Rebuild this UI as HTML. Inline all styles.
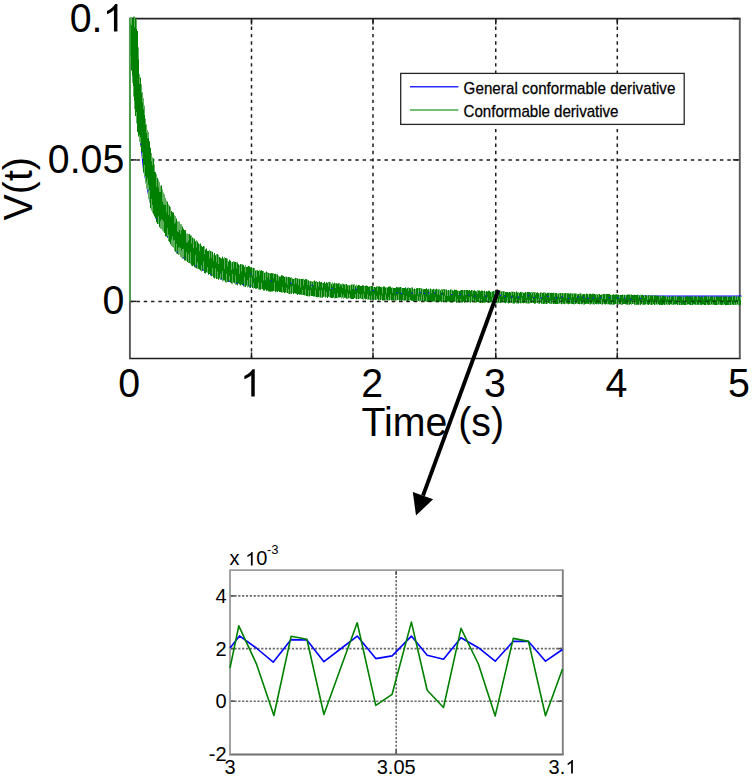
<!DOCTYPE html>
<html><head><meta charset="utf-8"><style>
html,body{margin:0;padding:0;background:#fff;width:752px;height:778px;overflow:hidden}
svg{display:block}
</style></head><body>
<svg width="752" height="778" viewBox="0 0 752 778" font-family="&quot;Liberation Sans&quot;, sans-serif" fill="#000">
<line x1="251.5" y1="358.87" x2="251.5" y2="18.6" stroke="#1e1e1e" stroke-width="1.5" stroke-dasharray="3.4 3.908"/>
<line x1="373.0" y1="358.87" x2="373.0" y2="18.6" stroke="#1e1e1e" stroke-width="1.5" stroke-dasharray="3.4 3.908"/>
<line x1="495.75" y1="358.87" x2="495.75" y2="18.6" stroke="#1e1e1e" stroke-width="1.5" stroke-dasharray="3.4 3.908"/>
<line x1="617.3" y1="358.87" x2="617.3" y2="18.6" stroke="#1e1e1e" stroke-width="1.5" stroke-dasharray="3.4 3.908"/>
<line x1="129.2" y1="159.9" x2="739.8" y2="159.9" stroke="#1e1e1e" stroke-width="1.5" stroke-dasharray="3.4 3.894"/>
<line x1="129.2" y1="301.4" x2="739.8" y2="301.4" stroke="#1e1e1e" stroke-width="1.5" stroke-dasharray="3.4 3.894"/>
<line x1="251.5" y1="358.45" x2="251.5" y2="352.45" stroke="#1e1e1e" stroke-width="1.5"/>
<line x1="251.5" y1="18.6" x2="251.5" y2="24.6" stroke="#1e1e1e" stroke-width="1.5"/>
<line x1="373.0" y1="358.45" x2="373.0" y2="352.45" stroke="#1e1e1e" stroke-width="1.5"/>
<line x1="373.0" y1="18.6" x2="373.0" y2="24.6" stroke="#1e1e1e" stroke-width="1.5"/>
<line x1="495.75" y1="358.45" x2="495.75" y2="352.45" stroke="#1e1e1e" stroke-width="1.5"/>
<line x1="495.75" y1="18.6" x2="495.75" y2="24.6" stroke="#1e1e1e" stroke-width="1.5"/>
<line x1="617.3" y1="358.45" x2="617.3" y2="352.45" stroke="#1e1e1e" stroke-width="1.5"/>
<line x1="617.3" y1="18.6" x2="617.3" y2="24.6" stroke="#1e1e1e" stroke-width="1.5"/>
<line x1="129.9" y1="18.6" x2="136.4" y2="18.6" stroke="#1e1e1e" stroke-width="1.5"/>
<line x1="732.8" y1="18.6" x2="739.8" y2="18.6" stroke="#1e1e1e" stroke-width="1.5"/>
<line x1="129.9" y1="159.9" x2="136.4" y2="159.9" stroke="#1e1e1e" stroke-width="1.5"/>
<line x1="732.8" y1="159.9" x2="739.8" y2="159.9" stroke="#1e1e1e" stroke-width="1.5"/>
<line x1="129.9" y1="301.4" x2="136.4" y2="301.4" stroke="#1e1e1e" stroke-width="1.5"/>
<line x1="732.8" y1="301.4" x2="739.8" y2="301.4" stroke="#1e1e1e" stroke-width="1.5"/>
<line x1="129.1" y1="18.6" x2="740.6999999999999" y2="18.6" stroke="#222" stroke-width="1.6"/>
<line x1="129.1" y1="358.45" x2="740.6999999999999" y2="358.45" stroke="#1c1c1c" stroke-width="1.6"/>
<line x1="129.9" y1="18.6" x2="129.9" y2="358.45" stroke="#555" stroke-width="1.9"/>
<line x1="739.8" y1="18.6" x2="739.8" y2="358.45" stroke="#585858" stroke-width="1.9"/>
<path d="M141.5,149.3 L143.5,168.4 L145.5,178.7 L147.5,189.0 L149.5,199.3 L151.5,206.4 L153.5,211.0 L155.5,215.6 L157.5,220.2 L159.5,223.2 L161.5,226.2 L163.5,229.2 L165.5,232.2 L167.5,235.4 L169.5,238.6 L171.5,241.8 L173.5,245.0 L175.5,248.1 L177.5,250.3 L179.5,251.9 L181.5,253.6 L183.5,255.3 L185.5,257.0 L187.5,258.6 L189.5,260.0 L191.5,261.2 L193.5,262.4 L195.5,263.5 L197.5,264.8 L199.5,266.0 L201.5,267.2 L203.5,268.4 L205.5,269.7 L207.5,270.9 L209.5,272.1 L211.5,273.3 L213.5,274.3 L215.5,275.0 L217.5,275.8 L219.5,276.5 L221.5,277.2 L223.5,277.9 L225.5,278.5 L227.5,279.1 L229.5,279.6 L231.5,280.2 L233.5,280.7 L235.5,281.3 L237.5,281.8 L239.5,282.2 L241.5,282.7 L243.5,283.2 L245.5,283.6 L247.5,284.1 L249.5,284.5 L251.5,285.0 L253.5,285.4 L255.5,285.8 L257.5,286.2 L259.5,286.6 L261.5,287.1 L263.5,287.5 L265.5,287.9 L267.5,288.3 L269.5,288.5 L271.5,288.8 L273.5,289.0 L275.5,289.3 L277.5,289.5 L279.5,289.7 L281.5,290.0 L283.5,290.2 L285.5,290.5 L287.5,290.8 L289.5,291.1 L291.5,291.4 L293.5,291.7 L295.5,292.0 L297.5,292.3 L299.5,292.6 L301.5,292.9 L303.5,293.1 L305.5,293.4 L307.5,293.6 L309.5,293.8 L311.5,294.0 L313.5,294.2 L315.5,294.4 L317.5,294.6 L319.5,294.8 L321.5,294.9 L323.5,295.0 L325.5,295.1 L327.5,295.2 L329.5,295.3 L331.5,295.4 L333.5,295.6 L335.5,295.7 L337.5,295.8 L339.5,295.9 L341.5,296.0 L343.5,296.1 L345.5,296.2 L347.5,296.4 L349.5,296.5 L351.5,296.6 L353.5,296.7 L355.5,296.8 L357.5,296.9 L359.5,297.0 L361.5,297.1 L363.5,297.2 L365.5,297.4 L367.5,297.5 L369.5,297.6 L371.5,297.7 L373.5,297.7 L375.5,297.8 L377.5,297.9 L379.5,297.9 L381.5,298.0 L383.5,298.1 L385.5,298.1 L387.5,298.2 L389.5,298.3 L391.5,298.3 L393.5,298.4 L395.5,298.5 L397.5,298.5 L399.5,298.6 L401.5,298.7 L403.5,298.7 L405.5,298.8 L407.5,298.9 L409.5,298.9 L411.5,299.0 L413.5,299.1 L415.5,299.1 L417.5,299.2 L419.5,299.3 L421.5,299.3 L423.5,299.4 L425.5,299.5 L427.5,299.5 L429.5,299.6 L431.5,299.7 L433.5,299.8 L435.5,299.8 L437.5,299.9 L439.5,300.0 L441.5,300.0 L443.5,300.1 L445.5,300.2 L447.5,300.2 L449.5,300.3 L451.5,300.3 L453.5,300.3 L455.5,300.2 L457.5,300.2 L459.5,300.2 L461.5,300.2 L463.5,300.1 L465.5,300.1 L467.5,300.1 L469.5,300.1 L471.5,300.0 L473.5,300.0 L475.5,300.0 L477.5,299.9 L479.5,299.9 L481.5,299.9 L483.5,299.8 L485.5,299.8 L487.5,299.8 L489.5,299.7 L491.5,299.7 L493.5,299.6 L495.5,299.6 L497.5,299.6 L499.5,299.5 L501.5,299.5 L503.5,299.4 L505.5,299.4 L507.5,299.3 L509.5,299.3 L511.5,299.2 L513.5,299.2 L515.5,299.1 L517.5,299.1 L519.5,299.0 L521.5,299.0 L523.5,298.9 L525.5,298.9 L527.5,298.8 L529.5,298.8 L531.5,298.7 L533.5,298.6 L535.5,298.6 L537.5,298.5 L539.5,298.5 L541.5,298.4 L543.5,298.3 L545.5,298.3 L547.5,298.2 L549.5,298.1 L551.5,298.1 L553.5,298.0 L555.5,297.9 L557.5,297.9 L559.5,297.8 L561.5,297.7 L563.5,297.7 L565.5,297.6 L567.5,297.5 L569.5,297.4 L571.5,297.4 L573.5,297.3 L575.5,297.2 L577.5,297.1 L579.5,297.0 L581.5,297.0 L583.5,296.9 L585.5,296.8 L587.5,296.7 L589.5,296.6 L591.5,296.6 L593.5,296.5 L595.5,296.4 L597.5,296.3 L599.5,296.2 L601.5,296.2 L603.5,296.2 L605.5,296.2 L607.5,296.2 L609.5,296.2 L611.5,296.2 L613.5,296.2 L615.5,296.2 L617.5,296.2 L619.5,296.2 L621.5,296.2 L623.5,296.2 L625.5,296.2 L627.5,296.2 L629.5,296.2 L631.5,296.2 L633.5,296.2 L635.5,296.2 L637.5,296.2 L639.5,296.2 L641.5,296.2 L643.5,296.2 L645.5,296.2 L647.5,296.2 L649.5,296.2 L651.5,296.2 L653.5,296.2 L655.5,296.2 L657.5,296.2 L659.5,296.2 L661.5,296.2 L663.5,296.2 L665.5,296.2 L667.5,296.2 L669.5,296.2 L671.5,296.2 L673.5,296.2 L675.5,296.2 L677.5,296.2 L679.5,296.2 L681.5,296.2 L683.5,296.2 L685.5,296.2 L687.5,296.2 L689.5,296.2 L691.5,296.2 L693.5,296.2 L695.5,296.2 L697.5,296.2 L699.5,296.2 L701.5,296.2 L703.5,296.2 L705.5,296.2 L707.5,296.2 L709.5,296.2 L711.5,296.2 L713.5,296.2 L715.5,296.2 L717.5,296.2 L719.5,296.2 L721.5,296.2 L723.5,296.2 L725.5,296.2 L727.5,296.2 L729.5,296.2 L731.5,296.2 L733.5,296.2 L735.5,296.2 L737.5,296.2 L739.5,296.2 L741.5,296.2" fill="none" stroke="#0000ff" stroke-width="1.3"/>
<path d="M130.0,17.1h1.0V62.7h-1.0ZM131.0,17.4h1.0V70.4h-1.0ZM132.0,19.2h1.0V82.7h-1.0ZM133.0,16.7h1.0V96.5h-1.0ZM134.0,16.6h1.0V109.1h-1.0ZM135.0,18.6h1.0V116.0h-1.0ZM136.0,19.1h1.0V123.3h-1.0ZM137.0,31.0h1.0V132.1h-1.0ZM138.0,47.6h1.0V136.5h-1.0ZM139.0,74.2h1.0V141.7h-1.0ZM140.0,77.4h1.0V147.0h-1.0ZM141.0,84.5h1.0V151.8h-1.0ZM142.0,91.9h1.0V158.7h-1.0ZM143.0,98.3h1.0V172.3h-1.0ZM144.0,105.8h1.0V176.0h-1.0ZM145.0,118.8h1.0V183.1h-1.0ZM146.0,124.3h1.0V188.2h-1.0ZM147.0,129.9h1.0V191.1h-1.0ZM148.0,131.9h1.0V198.5h-1.0ZM149.0,141.3h1.0V202.3h-1.0ZM150.0,147.8h1.0V208.3h-1.0ZM151.0,153.3h1.0V210.6h-1.0ZM152.0,157.4h1.0V212.4h-1.0ZM153.0,158.4h1.0V214.3h-1.0ZM154.0,164.4h1.0V216.5h-1.0ZM155.0,172.2h1.0V218.3h-1.0ZM156.0,174.2h1.0V222.2h-1.0ZM157.0,177.8h1.0V224.1h-1.0ZM158.0,179.7h1.0V224.1h-1.0ZM159.0,182.2h1.0V227.3h-1.0ZM160.0,185.7h1.0V228.5h-1.0ZM161.0,185.6h1.0V229.0h-1.0ZM162.0,189.4h1.0V230.6h-1.0ZM163.0,192.7h1.0V231.6h-1.0ZM164.0,194.4h1.0V233.0h-1.0ZM165.0,198.3h1.0V236.5h-1.0ZM166.0,200.7h1.0V236.3h-1.0ZM167.0,201.7h1.0V237.7h-1.0ZM168.0,204.6h1.0V240.9h-1.0ZM169.0,205.8h1.0V241.9h-1.0ZM170.0,207.2h1.0V244.3h-1.0ZM171.0,210.9h1.0V245.9h-1.0ZM172.0,212.2h1.0V247.1h-1.0ZM173.0,212.4h1.0V247.5h-1.0ZM174.0,215.2h1.0V250.7h-1.0ZM175.0,216.3h1.0V251.7h-1.0ZM176.0,218.6h1.0V253.6h-1.0ZM177.0,221.0h1.0V254.1h-1.0ZM178.0,221.7h1.0V254.9h-1.0ZM179.0,221.7h1.0V254.6h-1.0ZM180.0,223.9h1.0V256.9h-1.0ZM181.0,224.4h1.0V257.5h-1.0ZM182.0,226.6h1.0V258.8h-1.0ZM183.0,228.7h1.0V258.3h-1.0ZM184.0,230.1h1.0V260.5h-1.0ZM185.0,230.2h1.0V260.5h-1.0ZM186.0,233.7h1.0V260.9h-1.0ZM187.0,233.4h1.0V261.9h-1.0ZM188.0,234.0h1.0V263.0h-1.0ZM189.0,234.1h1.0V263.0h-1.0ZM190.0,235.5h1.0V263.7h-1.0ZM191.0,235.5h1.0V265.5h-1.0ZM192.0,237.4h1.0V266.2h-1.0ZM193.0,238.6h1.0V265.5h-1.0ZM194.0,238.7h1.0V267.2h-1.0ZM195.0,241.2h1.0V267.9h-1.0ZM196.0,240.3h1.0V268.2h-1.0ZM197.0,241.5h1.0V269.0h-1.0ZM198.0,243.2h1.0V268.8h-1.0ZM199.0,244.3h1.0V269.5h-1.0ZM200.0,243.6h1.0V270.4h-1.0ZM201.0,245.7h1.0V271.4h-1.0ZM202.0,246.9h1.0V270.6h-1.0ZM203.0,245.9h1.0V270.3h-1.0ZM204.0,246.5h1.0V273.1h-1.0ZM205.0,249.4h1.0V273.5h-1.0ZM206.0,248.4h1.0V272.2h-1.0ZM207.0,251.0h1.0V272.8h-1.0ZM208.0,251.1h1.0V274.8h-1.0ZM209.0,250.1h1.0V274.1h-1.0ZM210.0,251.0h1.0V275.2h-1.0ZM211.0,251.5h1.0V276.3h-1.0ZM212.0,251.8h1.0V275.9h-1.0ZM213.0,254.8h1.0V277.6h-1.0ZM214.0,253.1h1.0V278.6h-1.0ZM215.0,255.3h1.0V277.5h-1.0ZM216.0,254.2h1.0V278.9h-1.0ZM217.0,254.1h1.0V278.9h-1.0ZM218.0,254.9h1.0V279.7h-1.0ZM219.0,257.1h1.0V278.5h-1.0ZM220.0,257.8h1.0V279.9h-1.0ZM221.0,258.4h1.0V279.4h-1.0ZM222.0,256.5h1.0V281.2h-1.0ZM223.0,258.5h1.0V280.5h-1.0ZM224.0,257.3h1.0V280.5h-1.0ZM225.0,258.1h1.0V282.2h-1.0ZM226.0,258.2h1.0V282.5h-1.0ZM227.0,258.8h1.0V281.8h-1.0ZM228.0,261.4h1.0V282.0h-1.0ZM229.0,259.7h1.0V281.4h-1.0ZM230.0,260.7h1.0V282.4h-1.0ZM231.0,262.5h1.0V283.6h-1.0ZM232.0,262.0h1.0V283.9h-1.0ZM233.0,261.3h1.0V282.4h-1.0ZM234.0,261.7h1.0V283.3h-1.0ZM235.0,261.9h1.0V284.6h-1.0ZM236.0,262.2h1.0V284.6h-1.0ZM237.0,262.4h1.0V285.3h-1.0ZM238.0,264.2h1.0V283.6h-1.0ZM239.0,265.2h1.0V284.5h-1.0ZM240.0,263.9h1.0V285.6h-1.0ZM241.0,264.2h1.0V284.4h-1.0ZM242.0,264.6h1.0V285.0h-1.0ZM243.0,265.1h1.0V286.2h-1.0ZM244.0,266.7h1.0V286.8h-1.0ZM245.0,265.1h1.0V287.0h-1.0ZM246.0,266.9h1.0V285.6h-1.0ZM247.0,266.8h1.0V287.2h-1.0ZM248.0,266.1h1.0V286.4h-1.0ZM249.0,266.4h1.0V287.7h-1.0ZM250.0,267.3h1.0V287.9h-1.0ZM251.0,267.3h1.0V287.0h-1.0ZM252.0,268.5h1.0V288.1h-1.0ZM253.0,267.8h1.0V288.5h-1.0ZM254.0,268.1h1.0V288.1h-1.0ZM255.0,270.6h1.0V288.8h-1.0ZM256.0,270.0h1.0V288.7h-1.0ZM257.0,270.2h1.0V288.3h-1.0ZM258.0,270.9h1.0V289.4h-1.0ZM259.0,269.7h1.0V289.6h-1.0ZM260.0,270.7h1.0V289.7h-1.0ZM261.0,270.3h1.0V289.0h-1.0ZM262.0,271.0h1.0V289.2h-1.0ZM263.0,270.9h1.0V290.6h-1.0ZM264.0,272.8h1.0V290.5h-1.0ZM265.0,272.6h1.0V289.5h-1.0ZM266.0,271.6h1.0V290.9h-1.0ZM267.0,272.6h1.0V290.5h-1.0ZM268.0,273.1h1.0V291.4h-1.0ZM269.0,273.0h1.0V291.6h-1.0ZM270.0,273.4h1.0V291.7h-1.0ZM271.0,273.0h1.0V291.6h-1.0ZM272.0,273.3h1.0V291.5h-1.0ZM273.0,273.3h1.0V291.0h-1.0ZM274.0,273.9h1.0V290.9h-1.0ZM275.0,273.8h1.0V292.3h-1.0ZM276.0,273.9h1.0V291.6h-1.0ZM277.0,274.4h1.0V291.9h-1.0ZM278.0,275.8h1.0V291.1h-1.0ZM279.0,276.5h1.0V292.1h-1.0ZM280.0,276.5h1.0V292.0h-1.0ZM281.0,275.3h1.0V292.5h-1.0ZM282.0,275.6h1.0V292.6h-1.0ZM283.0,275.9h1.0V292.2h-1.0ZM284.0,277.1h1.0V293.2h-1.0ZM285.0,276.8h1.0V292.6h-1.0ZM286.0,276.7h1.0V292.7h-1.0ZM287.0,277.2h1.0V293.1h-1.0ZM288.0,277.1h1.0V293.7h-1.0ZM289.0,277.2h1.0V293.9h-1.0ZM290.0,277.7h1.0V294.1h-1.0ZM291.0,277.0h1.0V293.7h-1.0ZM292.0,278.5h1.0V292.9h-1.0ZM293.0,279.0h1.0V294.0h-1.0ZM294.0,278.7h1.0V293.3h-1.0ZM295.0,277.7h1.0V293.6h-1.0ZM296.0,278.3h1.0V293.7h-1.0ZM297.0,278.2h1.0V295.1h-1.0ZM298.0,279.0h1.0V294.0h-1.0ZM299.0,278.8h1.0V294.7h-1.0ZM300.0,279.1h1.0V294.4h-1.0ZM301.0,278.9h1.0V294.7h-1.0ZM302.0,279.0h1.0V294.9h-1.0ZM303.0,278.8h1.0V294.9h-1.0ZM304.0,279.7h1.0V295.3h-1.0ZM305.0,279.1h1.0V295.4h-1.0ZM306.0,279.3h1.0V296.1h-1.0ZM307.0,279.7h1.0V296.3h-1.0ZM308.0,280.3h1.0V296.3h-1.0ZM309.0,281.3h1.0V296.4h-1.0ZM310.0,281.2h1.0V295.6h-1.0ZM311.0,280.9h1.0V296.1h-1.0ZM312.0,281.7h1.0V295.9h-1.0ZM313.0,280.9h1.0V296.6h-1.0ZM314.0,280.4h1.0V296.5h-1.0ZM315.0,281.4h1.0V296.6h-1.0ZM316.0,281.0h1.0V297.0h-1.0ZM317.0,281.9h1.0V297.3h-1.0ZM318.0,282.1h1.0V297.0h-1.0ZM319.0,281.2h1.0V297.2h-1.0ZM320.0,282.3h1.0V297.4h-1.0ZM321.0,282.0h1.0V297.4h-1.0ZM322.0,282.8h1.0V297.7h-1.0ZM323.0,283.1h1.0V296.8h-1.0ZM324.0,281.8h1.0V296.5h-1.0ZM325.0,283.4h1.0V297.4h-1.0ZM326.0,282.3h1.0V297.0h-1.0ZM327.0,282.8h1.0V297.9h-1.0ZM328.0,282.1h1.0V296.7h-1.0ZM329.0,282.1h1.0V297.2h-1.0ZM330.0,282.2h1.0V297.4h-1.0ZM331.0,283.7h1.0V298.1h-1.0ZM332.0,282.5h1.0V298.0h-1.0ZM333.0,283.7h1.0V297.5h-1.0ZM334.0,282.7h1.0V298.2h-1.0ZM335.0,283.2h1.0V298.3h-1.0ZM336.0,283.2h1.0V298.1h-1.0ZM337.0,283.7h1.0V298.3h-1.0ZM338.0,283.3h1.0V297.6h-1.0ZM339.0,283.1h1.0V297.5h-1.0ZM340.0,284.3h1.0V297.2h-1.0ZM341.0,284.4h1.0V298.5h-1.0ZM342.0,283.6h1.0V297.4h-1.0ZM343.0,284.1h1.0V298.6h-1.0ZM344.0,284.5h1.0V297.8h-1.0ZM345.0,284.1h1.0V297.7h-1.0ZM346.0,283.9h1.0V298.7h-1.0ZM347.0,285.2h1.0V298.7h-1.0ZM348.0,285.0h1.0V298.3h-1.0ZM349.0,285.3h1.0V298.3h-1.0ZM350.0,285.2h1.0V298.5h-1.0ZM351.0,284.5h1.0V299.0h-1.0ZM352.0,284.5h1.0V299.1h-1.0ZM353.0,284.6h1.0V299.0h-1.0ZM354.0,284.6h1.0V298.1h-1.0ZM355.0,285.7h1.0V298.5h-1.0ZM356.0,284.7h1.0V299.2h-1.0ZM357.0,285.8h1.0V298.7h-1.0ZM358.0,284.9h1.0V298.9h-1.0ZM359.0,285.3h1.0V299.0h-1.0ZM360.0,285.9h1.0V298.5h-1.0ZM361.0,285.9h1.0V299.0h-1.0ZM362.0,285.2h1.0V299.3h-1.0ZM363.0,285.4h1.0V299.4h-1.0ZM364.0,286.1h1.0V298.6h-1.0ZM365.0,285.7h1.0V299.4h-1.0ZM366.0,285.5h1.0V299.0h-1.0ZM367.0,286.1h1.0V299.4h-1.0ZM368.0,286.7h1.0V299.5h-1.0ZM369.0,286.5h1.0V299.7h-1.0ZM370.0,286.0h1.0V300.1h-1.0ZM371.0,286.1h1.0V299.8h-1.0ZM372.0,285.9h1.0V299.4h-1.0ZM373.0,286.9h1.0V299.9h-1.0ZM374.0,287.0h1.0V299.6h-1.0ZM375.0,287.3h1.0V300.0h-1.0ZM376.0,286.4h1.0V300.1h-1.0ZM377.0,286.3h1.0V299.3h-1.0ZM378.0,286.5h1.0V300.2h-1.0ZM379.0,286.3h1.0V300.2h-1.0ZM380.0,286.9h1.0V300.1h-1.0ZM381.0,287.3h1.0V299.4h-1.0ZM382.0,287.0h1.0V300.5h-1.0ZM383.0,286.5h1.0V300.5h-1.0ZM384.0,286.6h1.0V300.5h-1.0ZM385.0,287.6h1.0V300.0h-1.0ZM386.0,287.5h1.0V299.7h-1.0ZM387.0,287.4h1.0V300.3h-1.0ZM388.0,286.7h1.0V300.6h-1.0ZM389.0,286.6h1.0V300.3h-1.0ZM390.0,286.6h1.0V299.8h-1.0ZM391.0,287.8h1.0V300.5h-1.0ZM392.0,287.5h1.0V300.2h-1.0ZM393.0,288.1h1.0V300.6h-1.0ZM394.0,288.0h1.0V300.8h-1.0ZM395.0,288.0h1.0V300.6h-1.0ZM396.0,287.0h1.0V300.6h-1.0ZM397.0,287.2h1.0V300.0h-1.0ZM398.0,287.5h1.0V299.8h-1.0ZM399.0,287.3h1.0V300.8h-1.0ZM400.0,287.1h1.0V300.3h-1.0ZM401.0,287.4h1.0V301.1h-1.0ZM402.0,288.0h1.0V300.3h-1.0ZM403.0,287.9h1.0V300.4h-1.0ZM404.0,288.1h1.0V300.8h-1.0ZM405.0,287.3h1.0V300.4h-1.0ZM406.0,288.4h1.0V300.4h-1.0ZM407.0,287.8h1.0V301.0h-1.0ZM408.0,287.5h1.0V300.8h-1.0ZM409.0,288.1h1.0V300.3h-1.0ZM410.0,288.2h1.0V300.3h-1.0ZM411.0,287.6h1.0V300.8h-1.0ZM412.0,287.6h1.0V300.7h-1.0ZM413.0,288.9h1.0V301.4h-1.0ZM414.0,288.6h1.0V301.4h-1.0ZM415.0,288.9h1.0V300.8h-1.0ZM416.0,288.3h1.0V300.5h-1.0ZM417.0,287.9h1.0V301.6h-1.0ZM418.0,288.2h1.0V300.9h-1.0ZM419.0,288.0h1.0V301.4h-1.0ZM420.0,288.1h1.0V300.8h-1.0ZM421.0,288.4h1.0V301.4h-1.0ZM422.0,288.7h1.0V301.5h-1.0ZM423.0,289.2h1.0V301.5h-1.0ZM424.0,288.9h1.0V301.6h-1.0ZM425.0,289.1h1.0V301.3h-1.0ZM426.0,288.3h1.0V301.7h-1.0ZM427.0,289.5h1.0V301.9h-1.0ZM428.0,289.0h1.0V301.8h-1.0ZM429.0,289.7h1.0V301.7h-1.0ZM430.0,288.6h1.0V301.2h-1.0ZM431.0,289.3h1.0V301.6h-1.0ZM432.0,289.6h1.0V301.7h-1.0ZM433.0,288.8h1.0V301.6h-1.0ZM434.0,289.1h1.0V301.6h-1.0ZM435.0,289.5h1.0V301.9h-1.0ZM436.0,288.8h1.0V302.2h-1.0ZM437.0,289.5h1.0V301.4h-1.0ZM438.0,289.4h1.0V302.2h-1.0ZM439.0,289.4h1.0V301.8h-1.0ZM440.0,290.2h1.0V301.5h-1.0ZM441.0,289.0h1.0V302.2h-1.0ZM442.0,289.6h1.0V301.4h-1.0ZM443.0,289.1h1.0V301.9h-1.0ZM444.0,289.3h1.0V301.9h-1.0ZM445.0,289.5h1.0V302.1h-1.0ZM446.0,289.4h1.0V302.5h-1.0ZM447.0,290.5h1.0V301.7h-1.0ZM448.0,290.0h1.0V301.5h-1.0ZM449.0,290.6h1.0V302.0h-1.0ZM450.0,289.5h1.0V302.4h-1.0ZM451.0,289.5h1.0V302.5h-1.0ZM452.0,290.3h1.0V302.5h-1.0ZM453.0,290.7h1.0V301.7h-1.0ZM454.0,289.6h1.0V301.7h-1.0ZM455.0,289.9h1.0V301.8h-1.0ZM456.0,289.8h1.0V302.7h-1.0ZM457.0,290.8h1.0V302.6h-1.0ZM458.0,290.7h1.0V302.5h-1.0ZM459.0,290.9h1.0V302.7h-1.0ZM460.0,290.5h1.0V302.6h-1.0ZM461.0,289.9h1.0V302.5h-1.0ZM462.0,289.9h1.0V302.6h-1.0ZM463.0,290.1h1.0V301.7h-1.0ZM464.0,289.9h1.0V302.8h-1.0ZM465.0,290.3h1.0V301.9h-1.0ZM466.0,290.0h1.0V302.1h-1.0ZM467.0,290.0h1.0V302.3h-1.0ZM468.0,290.6h1.0V302.2h-1.0ZM469.0,290.1h1.0V302.2h-1.0ZM470.0,291.0h1.0V302.7h-1.0ZM471.0,290.1h1.0V302.0h-1.0ZM472.0,290.2h1.0V302.1h-1.0ZM473.0,290.8h1.0V302.9h-1.0ZM474.0,290.3h1.0V302.3h-1.0ZM475.0,291.0h1.0V302.7h-1.0ZM476.0,291.5h1.0V302.6h-1.0ZM477.0,290.3h1.0V302.0h-1.0ZM478.0,290.5h1.0V302.2h-1.0ZM479.0,290.5h1.0V303.0h-1.0ZM480.0,291.2h1.0V303.0h-1.0ZM481.0,290.5h1.0V302.7h-1.0ZM482.0,290.8h1.0V303.0h-1.0ZM483.0,291.1h1.0V302.4h-1.0ZM484.0,290.8h1.0V302.8h-1.0ZM485.0,291.8h1.0V302.4h-1.0ZM486.0,291.0h1.0V302.1h-1.0ZM487.0,291.6h1.0V303.1h-1.0ZM488.0,290.8h1.0V302.9h-1.0ZM489.0,290.7h1.0V302.9h-1.0ZM490.0,292.0h1.0V302.5h-1.0ZM491.0,291.8h1.0V302.3h-1.0ZM492.0,291.5h1.0V303.1h-1.0ZM493.0,291.0h1.0V302.8h-1.0ZM494.0,291.1h1.0V302.7h-1.0ZM495.0,291.4h1.0V303.1h-1.0ZM496.0,291.0h1.0V303.2h-1.0ZM497.0,291.1h1.0V303.3h-1.0ZM498.0,291.5h1.0V302.8h-1.0ZM499.0,291.5h1.0V302.8h-1.0ZM500.0,291.2h1.0V303.0h-1.0ZM501.0,291.4h1.0V302.5h-1.0ZM502.0,291.3h1.0V302.3h-1.0ZM503.0,291.2h1.0V302.5h-1.0ZM504.0,291.6h1.0V302.7h-1.0ZM505.0,292.0h1.0V303.3h-1.0ZM506.0,291.9h1.0V302.6h-1.0ZM507.0,292.1h1.0V302.8h-1.0ZM508.0,292.4h1.0V303.4h-1.0ZM509.0,291.9h1.0V303.1h-1.0ZM510.0,292.2h1.0V302.6h-1.0ZM511.0,291.8h1.0V302.9h-1.0ZM512.0,291.7h1.0V303.3h-1.0ZM513.0,291.8h1.0V303.4h-1.0ZM514.0,292.1h1.0V303.5h-1.0ZM515.0,292.5h1.0V302.6h-1.0ZM516.0,291.6h1.0V303.6h-1.0ZM517.0,292.5h1.0V303.2h-1.0ZM518.0,292.3h1.0V303.4h-1.0ZM519.0,292.8h1.0V303.0h-1.0ZM520.0,292.0h1.0V303.2h-1.0ZM521.0,292.2h1.0V303.3h-1.0ZM522.0,292.2h1.0V302.9h-1.0ZM523.0,292.7h1.0V303.3h-1.0ZM524.0,292.7h1.0V302.7h-1.0ZM525.0,292.1h1.0V303.3h-1.0ZM526.0,292.5h1.0V303.2h-1.0ZM527.0,291.9h1.0V303.5h-1.0ZM528.0,292.0h1.0V303.6h-1.0ZM529.0,292.1h1.0V303.4h-1.0ZM530.0,292.5h1.0V302.8h-1.0ZM531.0,292.1h1.0V303.1h-1.0ZM532.0,292.6h1.0V303.1h-1.0ZM533.0,292.1h1.0V303.1h-1.0ZM534.0,292.2h1.0V303.7h-1.0ZM535.0,292.4h1.0V303.5h-1.0ZM536.0,292.8h1.0V302.9h-1.0ZM537.0,292.3h1.0V303.0h-1.0ZM538.0,293.2h1.0V303.7h-1.0ZM539.0,293.4h1.0V303.8h-1.0ZM540.0,292.6h1.0V303.1h-1.0ZM541.0,292.5h1.0V303.7h-1.0ZM542.0,292.9h1.0V303.9h-1.0ZM543.0,292.5h1.0V303.9h-1.0ZM544.0,292.6h1.0V303.8h-1.0ZM545.0,292.8h1.0V303.9h-1.0ZM546.0,293.5h1.0V304.0h-1.0ZM547.0,292.7h1.0V303.8h-1.0ZM548.0,292.7h1.0V303.1h-1.0ZM549.0,292.7h1.0V303.5h-1.0ZM550.0,293.0h1.0V303.9h-1.0ZM551.0,292.8h1.0V303.7h-1.0ZM552.0,293.0h1.0V303.6h-1.0ZM553.0,292.8h1.0V304.0h-1.0ZM554.0,292.9h1.0V303.7h-1.0ZM555.0,292.9h1.0V304.0h-1.0ZM556.0,293.1h1.0V303.9h-1.0ZM557.0,293.8h1.0V304.1h-1.0ZM558.0,293.6h1.0V304.0h-1.0ZM559.0,293.1h1.0V303.5h-1.0ZM560.0,293.1h1.0V303.4h-1.0ZM561.0,293.0h1.0V304.2h-1.0ZM562.0,293.1h1.0V304.1h-1.0ZM563.0,293.6h1.0V303.7h-1.0ZM564.0,293.3h1.0V304.2h-1.0ZM565.0,293.1h1.0V303.5h-1.0ZM566.0,293.2h1.0V303.6h-1.0ZM567.0,293.2h1.0V303.7h-1.0ZM568.0,293.3h1.0V304.2h-1.0ZM569.0,293.8h1.0V303.7h-1.0ZM570.0,293.2h1.0V303.7h-1.0ZM571.0,293.3h1.0V303.7h-1.0ZM572.0,293.4h1.0V303.9h-1.0ZM573.0,293.4h1.0V304.3h-1.0ZM574.0,293.5h1.0V304.3h-1.0ZM575.0,293.4h1.0V304.0h-1.0ZM576.0,293.5h1.0V303.6h-1.0ZM577.0,294.2h1.0V304.0h-1.0ZM578.0,293.9h1.0V304.1h-1.0ZM579.0,293.6h1.0V304.2h-1.0ZM580.0,293.5h1.0V303.8h-1.0ZM581.0,293.8h1.0V304.2h-1.0ZM582.0,294.6h1.0V303.8h-1.0ZM583.0,293.9h1.0V304.4h-1.0ZM584.0,293.9h1.0V304.4h-1.0ZM585.0,294.5h1.0V303.9h-1.0ZM586.0,293.5h1.0V303.8h-1.0ZM587.0,294.1h1.0V303.7h-1.0ZM588.0,294.4h1.0V303.9h-1.0ZM589.0,293.8h1.0V304.3h-1.0ZM590.0,293.7h1.0V304.5h-1.0ZM591.0,294.3h1.0V303.7h-1.0ZM592.0,293.7h1.0V304.3h-1.0ZM593.0,293.7h1.0V304.2h-1.0ZM594.0,294.0h1.0V304.4h-1.0ZM595.0,294.6h1.0V303.9h-1.0ZM596.0,294.1h1.0V304.3h-1.0ZM597.0,294.6h1.0V303.7h-1.0ZM598.0,294.2h1.0V304.4h-1.0ZM599.0,294.1h1.0V303.7h-1.0ZM600.0,294.9h1.0V304.1h-1.0ZM601.0,294.4h1.0V304.4h-1.0ZM602.0,294.4h1.0V304.4h-1.0ZM603.0,294.0h1.0V304.1h-1.0ZM604.0,294.1h1.0V304.2h-1.0ZM605.0,294.2h1.0V304.6h-1.0ZM606.0,294.0h1.0V303.9h-1.0ZM607.0,294.1h1.0V304.3h-1.0ZM608.0,294.0h1.0V304.3h-1.0ZM609.0,294.0h1.0V304.4h-1.0ZM610.0,294.7h1.0V304.6h-1.0ZM611.0,294.9h1.0V304.4h-1.0ZM612.0,294.8h1.0V304.6h-1.0ZM613.0,294.3h1.0V304.7h-1.0ZM614.0,294.7h1.0V304.4h-1.0ZM615.0,294.6h1.0V303.9h-1.0ZM616.0,294.3h1.0V304.1h-1.0ZM617.0,294.4h1.0V304.1h-1.0ZM618.0,294.7h1.0V304.7h-1.0ZM619.0,295.2h1.0V304.2h-1.0ZM620.0,295.0h1.0V304.3h-1.0ZM621.0,295.0h1.0V304.7h-1.0ZM622.0,294.5h1.0V304.7h-1.0ZM623.0,295.1h1.0V303.9h-1.0ZM624.0,294.7h1.0V304.0h-1.0ZM625.0,295.1h1.0V304.3h-1.0ZM626.0,295.2h1.0V304.6h-1.0ZM627.0,294.6h1.0V304.7h-1.0ZM628.0,294.4h1.0V304.6h-1.0ZM629.0,294.6h1.0V304.8h-1.0ZM630.0,294.7h1.0V304.0h-1.0ZM631.0,294.6h1.0V304.7h-1.0ZM632.0,294.9h1.0V304.0h-1.0ZM633.0,295.2h1.0V304.1h-1.0ZM634.0,294.7h1.0V304.7h-1.0ZM635.0,295.1h1.0V304.7h-1.0ZM636.0,295.1h1.0V304.7h-1.0ZM637.0,294.8h1.0V304.7h-1.0ZM638.0,294.7h1.0V304.8h-1.0ZM639.0,295.4h1.0V304.6h-1.0ZM640.0,294.7h1.0V304.9h-1.0ZM641.0,295.1h1.0V304.1h-1.0ZM642.0,294.7h1.0V304.8h-1.0ZM643.0,295.5h1.0V304.7h-1.0ZM644.0,295.7h1.0V304.8h-1.0ZM645.0,295.0h1.0V304.4h-1.0ZM646.0,295.4h1.0V304.2h-1.0ZM647.0,295.9h1.0V304.5h-1.0ZM648.0,295.2h1.0V304.9h-1.0ZM649.0,295.6h1.0V304.2h-1.0ZM650.0,295.6h1.0V304.7h-1.0ZM651.0,295.4h1.0V304.9h-1.0ZM652.0,295.7h1.0V304.8h-1.0ZM653.0,295.7h1.0V304.1h-1.0ZM654.0,295.5h1.0V304.9h-1.0ZM655.0,295.4h1.0V304.4h-1.0ZM656.0,295.8h1.0V304.5h-1.0ZM657.0,295.6h1.0V304.5h-1.0ZM658.0,296.2h1.0V304.2h-1.0ZM659.0,296.4h1.0V304.9h-1.0ZM660.0,296.3h1.0V304.8h-1.0ZM661.0,295.7h1.0V305.0h-1.0ZM662.0,296.1h1.0V304.9h-1.0ZM663.0,295.8h1.0V304.5h-1.0ZM664.0,296.5h1.0V304.9h-1.0ZM665.0,296.1h1.0V304.4h-1.0ZM666.0,296.0h1.0V304.5h-1.0ZM667.0,296.7h1.0V305.0h-1.0ZM668.0,296.9h1.0V304.6h-1.0ZM669.0,296.3h1.0V304.9h-1.0ZM670.0,296.3h1.0V304.3h-1.0ZM671.0,296.9h1.0V304.4h-1.0ZM672.0,296.3h1.0V304.9h-1.0ZM673.0,296.7h1.0V304.7h-1.0ZM674.0,296.3h1.0V304.4h-1.0ZM675.0,296.3h1.0V304.4h-1.0ZM676.0,296.2h1.0V304.3h-1.0ZM677.0,296.8h1.0V305.0h-1.0ZM678.0,296.4h1.0V304.4h-1.0ZM679.0,296.2h1.0V304.9h-1.0ZM680.0,296.5h1.0V304.9h-1.0ZM681.0,297.1h1.0V304.9h-1.0ZM682.0,296.2h1.0V304.8h-1.0ZM683.0,296.8h1.0V304.8h-1.0ZM684.0,297.0h1.0V304.9h-1.0ZM685.0,296.8h1.0V304.9h-1.0ZM686.0,296.2h1.0V304.8h-1.0ZM687.0,296.2h1.0V304.6h-1.0ZM688.0,296.7h1.0V304.3h-1.0ZM689.0,296.4h1.0V304.8h-1.0ZM690.0,296.4h1.0V305.0h-1.0ZM691.0,297.0h1.0V305.0h-1.0ZM692.0,296.3h1.0V305.0h-1.0ZM693.0,296.2h1.0V304.6h-1.0ZM694.0,296.4h1.0V304.4h-1.0ZM695.0,296.5h1.0V304.7h-1.0ZM696.0,296.8h1.0V304.9h-1.0ZM697.0,296.6h1.0V304.7h-1.0ZM698.0,296.3h1.0V304.7h-1.0ZM699.0,296.8h1.0V304.8h-1.0ZM700.0,297.0h1.0V304.8h-1.0ZM701.0,296.3h1.0V305.0h-1.0ZM702.0,296.9h1.0V304.5h-1.0ZM703.0,296.9h1.0V304.5h-1.0ZM704.0,296.2h1.0V304.9h-1.0ZM705.0,296.2h1.0V304.9h-1.0ZM706.0,296.5h1.0V304.6h-1.0ZM707.0,296.4h1.0V304.8h-1.0ZM708.0,296.4h1.0V305.1h-1.0ZM709.0,296.3h1.0V304.7h-1.0ZM710.0,296.9h1.0V305.1h-1.0ZM711.0,296.4h1.0V304.6h-1.0ZM712.0,296.5h1.0V304.9h-1.0ZM713.0,296.7h1.0V304.6h-1.0ZM714.0,297.0h1.0V305.1h-1.0ZM715.0,296.7h1.0V305.0h-1.0ZM716.0,296.5h1.0V304.9h-1.0ZM717.0,296.6h1.0V304.9h-1.0ZM718.0,296.5h1.0V304.5h-1.0ZM719.0,296.9h1.0V304.7h-1.0ZM720.0,296.7h1.0V304.8h-1.0ZM721.0,296.3h1.0V305.1h-1.0ZM722.0,296.8h1.0V304.8h-1.0ZM723.0,296.5h1.0V305.1h-1.0ZM724.0,297.1h1.0V304.6h-1.0ZM725.0,296.5h1.0V305.2h-1.0ZM726.0,296.4h1.0V305.1h-1.0ZM727.0,296.4h1.0V305.1h-1.0ZM728.0,296.9h1.0V305.1h-1.0ZM729.0,296.4h1.0V304.9h-1.0ZM730.0,296.9h1.0V305.1h-1.0ZM731.0,296.4h1.0V304.9h-1.0ZM732.0,296.3h1.0V304.6h-1.0ZM733.0,296.6h1.0V304.9h-1.0ZM734.0,296.2h1.0V305.0h-1.0ZM735.0,296.2h1.0V304.8h-1.0ZM736.0,296.9h1.0V304.9h-1.0ZM737.0,296.3h1.0V304.6h-1.0ZM738.0,296.2h1.0V305.2h-1.0ZM739.0,296.7h1.0V305.1h-1.0ZM740.0,296.2h1.0V304.8h-1.0Z" fill="#008000"/>
<path d="M130.20,17.1h0.6V23.6h-0.6ZM130.20,56.4h0.6V62.7h-0.6ZM131.20,17.4h0.6V25.2h-0.6ZM132.20,75.5h0.6V82.7h-0.6ZM133.20,86.1h0.6V96.5h-0.6ZM134.20,16.6h0.6V27.3h-0.6ZM134.20,100.7h0.6V109.1h-0.6ZM136.20,19.1h0.6V29.0h-0.6ZM136.20,112.0h0.6V123.3h-0.6ZM138.20,47.6h0.6V59.2h-0.6ZM139.20,74.2h0.6V83.9h-0.6ZM139.20,134.7h0.6V141.7h-0.6ZM140.20,137.4h0.6V147.0h-0.6ZM141.20,84.5h0.6V93.3h-0.6ZM142.20,91.9h0.6V102.6h-0.6ZM142.20,152.6h0.6V158.7h-0.6ZM143.20,98.3h0.6V109.3h-0.6ZM144.20,105.8h0.6V115.0h-0.6ZM144.20,164.9h0.6V176.0h-0.6ZM145.20,118.8h0.6V124.8h-0.6ZM145.20,176.3h0.6V183.1h-0.6ZM146.20,124.3h0.6V133.1h-0.6ZM146.20,181.3h0.6V188.2h-0.6ZM147.20,129.9h0.6V138.6h-0.6ZM147.20,178.5h0.6V191.1h-0.6ZM148.20,131.9h0.6V138.1h-0.6ZM148.20,184.7h0.6V198.5h-0.6ZM149.20,190.1h0.6V202.3h-0.6ZM151.20,153.3h0.6V161.5h-0.6ZM151.20,199.0h0.6V210.6h-0.6ZM152.20,157.4h0.6V165.2h-0.6ZM152.20,204.9h0.6V212.4h-0.6ZM154.20,164.4h0.6V171.8h-0.6ZM156.20,174.2h0.6V186.8h-0.6ZM158.20,179.7h0.6V187.8h-0.6ZM158.20,216.2h0.6V224.1h-0.6ZM159.20,182.2h0.6V191.9h-0.6ZM160.20,185.7h0.6V191.9h-0.6ZM160.20,221.1h0.6V228.5h-0.6ZM161.20,218.9h0.6V229.0h-0.6ZM162.20,189.4h0.6V201.6h-0.6ZM162.20,220.1h0.6V230.6h-0.6ZM163.20,192.7h0.6V204.3h-0.6ZM163.20,221.4h0.6V231.6h-0.6ZM164.20,194.4h0.6V204.9h-0.6ZM165.20,198.3h0.6V204.9h-0.6ZM166.20,200.7h0.6V212.4h-0.6ZM167.20,228.2h0.6V237.7h-0.6ZM168.20,204.6h0.6V215.0h-0.6ZM168.20,234.8h0.6V240.9h-0.6ZM170.20,207.2h0.6V216.5h-0.6ZM171.20,239.4h0.6V245.9h-0.6ZM172.20,236.2h0.6V247.1h-0.6ZM173.20,240.5h0.6V247.5h-0.6ZM174.20,215.2h0.6V223.7h-0.6ZM174.20,239.8h0.6V250.7h-0.6ZM175.20,216.3h0.6V222.4h-0.6ZM176.20,243.7h0.6V253.6h-0.6ZM177.20,221.0h0.6V231.5h-0.6ZM178.20,221.7h0.6V232.0h-0.6ZM178.20,247.6h0.6V254.9h-0.6ZM179.20,221.7h0.6V230.1h-0.6ZM179.20,247.3h0.6V254.6h-0.6ZM180.20,223.9h0.6V233.9h-0.6ZM180.20,248.0h0.6V256.9h-0.6ZM181.20,224.4h0.6V230.5h-0.6ZM181.20,250.8h0.6V257.5h-0.6ZM182.20,249.1h0.6V258.8h-0.6ZM183.20,248.8h0.6V258.3h-0.6ZM186.20,233.7h0.6V242.6h-0.6ZM186.20,251.9h0.6V260.9h-0.6ZM187.20,233.4h0.6V242.4h-0.6ZM188.20,234.0h0.6V240.6h-0.6ZM188.20,253.9h0.6V263.0h-0.6ZM190.20,252.3h0.6V263.7h-0.6ZM191.20,235.5h0.6V243.5h-0.6ZM193.20,238.6h0.6V248.3h-0.6ZM195.20,254.9h0.6V267.9h-0.6ZM196.20,240.3h0.6V247.4h-0.6ZM197.20,262.6h0.6V269.0h-0.6ZM199.20,244.3h0.6V251.2h-0.6ZM201.20,265.2h0.6V271.4h-0.6ZM203.20,261.2h0.6V270.3h-0.6ZM204.20,246.5h0.6V254.3h-0.6ZM207.20,267.3h0.6V272.8h-0.6ZM209.20,250.1h0.6V258.5h-0.6ZM211.20,251.5h0.6V258.1h-0.6ZM212.20,268.1h0.6V275.9h-0.6ZM213.20,254.8h0.6V260.7h-0.6ZM215.20,268.6h0.6V277.5h-0.6ZM216.20,254.2h0.6V262.2h-0.6ZM217.20,271.7h0.6V278.9h-0.6ZM218.20,254.9h0.6V263.9h-0.6ZM220.20,273.8h0.6V279.9h-0.6ZM222.20,271.0h0.6V281.2h-0.6ZM224.20,257.3h0.6V268.7h-0.6ZM226.20,273.7h0.6V282.5h-0.6ZM227.20,258.8h0.6V266.5h-0.6ZM229.20,276.1h0.6V281.4h-0.6ZM231.20,262.5h0.6V270.1h-0.6ZM232.20,274.0h0.6V283.9h-0.6ZM233.20,261.3h0.6V268.6h-0.6ZM235.20,275.3h0.6V284.6h-0.6ZM236.20,262.2h0.6V268.6h-0.6ZM239.20,265.2h0.6V274.0h-0.6ZM241.20,264.2h0.6V271.3h-0.6ZM244.20,277.1h0.6V286.8h-0.6ZM245.20,265.1h0.6V272.6h-0.6ZM247.20,280.3h0.6V287.2h-0.6ZM249.20,277.5h0.6V287.7h-0.6ZM251.20,277.6h0.6V287.0h-0.6ZM252.20,268.5h0.6V275.4h-0.6ZM253.20,282.9h0.6V288.5h-0.6ZM254.20,268.1h0.6V278.1h-0.6ZM256.20,270.0h0.6V277.0h-0.6ZM258.20,282.6h0.6V289.4h-0.6ZM259.20,269.7h0.6V275.4h-0.6ZM261.20,283.0h0.6V289.0h-0.6ZM263.20,270.9h0.6V280.5h-0.6ZM265.20,272.6h0.6V280.2h-0.6ZM267.20,272.6h0.6V277.4h-0.6ZM269.20,273.0h0.6V279.5h-0.6ZM273.20,273.3h0.6V277.9h-0.6ZM274.20,282.4h0.6V290.9h-0.6ZM276.20,273.9h0.6V280.4h-0.6ZM278.20,275.8h0.6V280.7h-0.6ZM282.20,286.8h0.6V292.6h-0.6ZM285.20,276.8h0.6V282.7h-0.6ZM286.20,287.5h0.6V292.7h-0.6ZM287.20,277.2h0.6V284.5h-0.6ZM288.20,289.1h0.6V293.7h-0.6ZM290.20,286.7h0.6V294.1h-0.6ZM291.20,277.0h0.6V283.3h-0.6ZM292.20,286.0h0.6V292.9h-0.6ZM294.20,278.7h0.6V284.3h-0.6ZM296.20,278.3h0.6V283.6h-0.6ZM298.20,279.0h0.6V285.2h-0.6ZM300.20,279.1h0.6V287.4h-0.6ZM302.20,290.0h0.6V294.9h-0.6ZM303.20,278.8h0.6V285.5h-0.6ZM305.20,289.2h0.6V295.4h-0.6ZM307.20,279.7h0.6V284.7h-0.6ZM308.20,290.3h0.6V296.3h-0.6ZM309.20,281.3h0.6V285.7h-0.6ZM310.20,290.5h0.6V295.6h-0.6ZM311.20,280.9h0.6V287.5h-0.6ZM313.20,280.9h0.6V285.2h-0.6ZM315.20,289.9h0.6V296.6h-0.6ZM316.20,281.0h0.6V288.5h-0.6ZM318.20,282.1h0.6V286.5h-0.6ZM319.20,290.6h0.6V297.2h-0.6ZM321.20,290.2h0.6V297.4h-0.6ZM322.20,282.8h0.6V287.6h-0.6ZM324.20,290.0h0.6V296.5h-0.6ZM326.20,292.0h0.6V297.0h-0.6ZM328.20,282.1h0.6V286.4h-0.6ZM329.20,290.8h0.6V297.2h-0.6ZM330.20,282.2h0.6V289.1h-0.6ZM332.20,282.5h0.6V286.4h-0.6ZM334.20,293.7h0.6V298.2h-0.6ZM335.20,283.2h0.6V287.9h-0.6ZM337.20,293.1h0.6V298.3h-0.6ZM339.20,283.1h0.6V286.8h-0.6ZM341.20,293.6h0.6V298.5h-0.6ZM342.20,283.6h0.6V288.0h-0.6ZM343.20,294.7h0.6V298.6h-0.6ZM345.20,284.1h0.6V289.3h-0.6ZM347.20,293.3h0.6V298.7h-0.6ZM348.20,285.0h0.6V289.7h-0.6ZM349.20,294.1h0.6V298.3h-0.6ZM350.20,285.2h0.6V290.4h-0.6ZM352.20,284.5h0.6V289.1h-0.6ZM354.20,284.6h0.6V289.4h-0.6ZM355.20,294.3h0.6V298.5h-0.6ZM356.20,284.7h0.6V288.4h-0.6ZM357.20,293.0h0.6V298.7h-0.6ZM359.20,294.0h0.6V299.0h-0.6ZM361.20,294.4h0.6V299.0h-0.6ZM363.20,293.8h0.6V299.4h-0.6ZM364.20,286.1h0.6V291.8h-0.6ZM367.20,294.2h0.6V299.4h-0.6ZM369.20,295.9h0.6V299.7h-0.6ZM370.20,286.0h0.6V290.8h-0.6ZM371.20,295.2h0.6V299.8h-0.6ZM373.20,286.9h0.6V290.8h-0.6ZM374.20,294.3h0.6V299.6h-0.6ZM376.20,296.2h0.6V300.1h-0.6ZM377.20,286.3h0.6V291.0h-0.6ZM379.20,295.3h0.6V300.2h-0.6ZM381.20,295.5h0.6V299.4h-0.6ZM382.20,287.0h0.6V293.6h-0.6ZM385.20,294.4h0.6V300.0h-0.6ZM386.20,287.5h0.6V293.2h-0.6ZM388.20,297.0h0.6V300.6h-0.6ZM390.20,294.6h0.6V299.8h-0.6ZM392.20,287.5h0.6V292.8h-0.6ZM394.20,295.4h0.6V300.8h-0.6ZM396.20,295.4h0.6V300.6h-0.6ZM398.20,293.9h0.6V299.8h-0.6ZM401.20,287.4h0.6V293.7h-0.6ZM403.20,294.9h0.6V300.4h-0.6ZM406.20,296.3h0.6V300.4h-0.6ZM408.20,287.5h0.6V291.1h-0.6ZM409.20,297.0h0.6V300.3h-0.6ZM411.20,287.6h0.6V291.4h-0.6ZM413.20,288.9h0.6V294.5h-0.6ZM415.20,288.9h0.6V294.2h-0.6ZM417.20,295.8h0.6V301.6h-0.6ZM418.20,288.2h0.6V294.2h-0.6ZM419.20,296.7h0.6V301.4h-0.6ZM420.20,288.1h0.6V293.4h-0.6ZM421.20,295.1h0.6V301.4h-0.6ZM422.20,288.7h0.6V295.1h-0.6ZM423.20,295.2h0.6V301.5h-0.6ZM426.20,296.6h0.6V301.7h-0.6ZM429.20,289.7h0.6V294.6h-0.6ZM431.20,289.3h0.6V293.3h-0.6ZM434.20,289.1h0.6V292.9h-0.6ZM435.20,297.4h0.6V301.9h-0.6ZM437.20,289.5h0.6V294.6h-0.6ZM439.20,289.4h0.6V295.0h-0.6ZM441.20,289.0h0.6V292.4h-0.6ZM442.20,295.3h0.6V301.4h-0.6ZM443.20,289.1h0.6V292.6h-0.6ZM444.20,295.8h0.6V301.9h-0.6ZM445.20,289.5h0.6V295.7h-0.6ZM447.20,290.5h0.6V296.1h-0.6ZM449.20,290.6h0.6V295.6h-0.6ZM451.20,289.5h0.6V294.7h-0.6ZM455.20,296.8h0.6V301.8h-0.6ZM457.20,299.0h0.6V302.6h-0.6ZM458.20,290.7h0.6V295.3h-0.6ZM460.20,298.7h0.6V302.6h-0.6ZM463.20,290.1h0.6V295.6h-0.6ZM465.20,290.3h0.6V295.1h-0.6ZM466.20,298.4h0.6V302.1h-0.6ZM469.20,297.0h0.6V302.2h-0.6ZM471.20,296.3h0.6V302.0h-0.6ZM472.20,290.2h0.6V293.8h-0.6ZM473.20,298.6h0.6V302.9h-0.6ZM475.20,299.5h0.6V302.7h-0.6ZM477.20,290.3h0.6V293.9h-0.6ZM479.20,298.3h0.6V303.0h-0.6ZM481.20,298.9h0.6V302.7h-0.6ZM483.20,291.1h0.6V296.5h-0.6ZM485.20,291.8h0.6V295.4h-0.6ZM487.20,297.3h0.6V303.1h-0.6ZM489.20,299.9h0.6V302.9h-0.6ZM491.20,291.8h0.6V296.7h-0.6ZM492.20,297.4h0.6V303.1h-0.6ZM494.20,291.1h0.6V295.7h-0.6ZM495.20,298.6h0.6V303.1h-0.6ZM496.20,291.0h0.6V295.1h-0.6ZM497.20,297.9h0.6V303.3h-0.6ZM498.20,291.5h0.6V296.5h-0.6ZM499.20,299.0h0.6V302.8h-0.6ZM500.20,291.2h0.6V295.8h-0.6ZM502.20,291.3h0.6V296.4h-0.6ZM503.20,299.5h0.6V302.5h-0.6ZM504.20,291.6h0.6V295.1h-0.6ZM507.20,297.6h0.6V302.8h-0.6ZM510.20,298.7h0.6V302.6h-0.6ZM511.20,291.8h0.6V295.8h-0.6ZM512.20,298.1h0.6V303.3h-0.6ZM513.20,291.8h0.6V295.1h-0.6ZM515.20,292.5h0.6V296.5h-0.6ZM516.20,299.3h0.6V303.6h-0.6ZM518.20,292.3h0.6V296.8h-0.6ZM519.20,300.0h0.6V303.0h-0.6ZM521.20,297.8h0.6V303.3h-0.6ZM522.20,292.2h0.6V295.9h-0.6ZM525.20,300.0h0.6V303.3h-0.6ZM526.20,292.5h0.6V298.1h-0.6ZM527.20,299.8h0.6V303.5h-0.6ZM529.20,299.9h0.6V303.4h-0.6ZM531.20,292.1h0.6V295.2h-0.6ZM532.20,298.1h0.6V303.1h-0.6ZM533.20,292.1h0.6V296.8h-0.6ZM535.20,292.4h0.6V295.3h-0.6ZM536.20,298.5h0.6V302.9h-0.6ZM538.20,298.4h0.6V303.7h-0.6ZM539.20,293.4h0.6V298.1h-0.6ZM540.20,298.3h0.6V303.1h-0.6ZM541.20,292.5h0.6V297.8h-0.6ZM542.20,300.2h0.6V303.9h-0.6ZM544.20,292.6h0.6V295.4h-0.6ZM545.20,301.0h0.6V303.9h-0.6ZM547.20,300.1h0.6V303.8h-0.6ZM549.20,292.7h0.6V297.8h-0.6ZM550.20,300.7h0.6V303.9h-0.6ZM552.20,300.1h0.6V303.6h-0.6ZM554.20,292.9h0.6V296.8h-0.6ZM557.20,293.8h0.6V296.6h-0.6ZM558.20,299.6h0.6V304.0h-0.6ZM559.20,293.1h0.6V297.4h-0.6ZM560.20,298.9h0.6V303.4h-0.6ZM561.20,293.0h0.6V296.5h-0.6ZM562.20,301.0h0.6V304.1h-0.6ZM563.20,293.6h0.6V297.3h-0.6ZM565.20,300.8h0.6V303.5h-0.6ZM566.20,293.2h0.6V298.2h-0.6ZM570.20,299.8h0.6V303.7h-0.6ZM571.20,293.3h0.6V297.7h-0.6ZM573.20,293.4h0.6V297.1h-0.6ZM574.20,300.0h0.6V304.3h-0.6ZM576.20,293.5h0.6V297.5h-0.6ZM577.20,301.0h0.6V304.0h-0.6ZM579.20,293.6h0.6V296.3h-0.6ZM580.20,301.0h0.6V303.8h-0.6ZM581.20,293.8h0.6V296.5h-0.6ZM583.20,300.7h0.6V304.4h-0.6ZM585.20,294.5h0.6V297.7h-0.6ZM588.20,294.4h0.6V297.4h-0.6ZM589.20,300.8h0.6V304.3h-0.6ZM592.20,301.6h0.6V304.3h-0.6ZM594.20,301.9h0.6V304.4h-0.6ZM596.20,294.1h0.6V297.8h-0.6ZM598.20,294.2h0.6V297.0h-0.6ZM601.20,299.5h0.6V304.4h-0.6ZM602.20,294.4h0.6V299.1h-0.6ZM603.20,301.4h0.6V304.1h-0.6ZM605.20,294.2h0.6V298.9h-0.6ZM607.20,301.3h0.6V304.3h-0.6ZM611.20,294.9h0.6V299.7h-0.6ZM612.20,302.0h0.6V304.6h-0.6ZM616.20,299.6h0.6V304.1h-0.6ZM618.20,300.2h0.6V304.7h-0.6ZM619.20,295.2h0.6V298.1h-0.6ZM621.20,301.5h0.6V304.7h-0.6ZM623.20,295.1h0.6V298.3h-0.6ZM625.20,295.1h0.6V298.7h-0.6ZM628.20,300.8h0.6V304.6h-0.6ZM630.20,294.7h0.6V297.5h-0.6ZM631.20,301.6h0.6V304.7h-0.6ZM633.20,300.2h0.6V304.1h-0.6ZM635.20,300.5h0.6V304.7h-0.6ZM638.20,294.7h0.6V297.4h-0.6ZM639.20,300.9h0.6V304.6h-0.6ZM640.20,294.7h0.6V297.8h-0.6ZM642.20,300.1h0.6V304.8h-0.6ZM644.20,295.7h0.6V298.1h-0.6ZM646.20,301.5h0.6V304.2h-0.6ZM647.20,295.9h0.6V300.1h-0.6ZM649.20,295.6h0.6V298.6h-0.6ZM650.20,301.7h0.6V304.7h-0.6ZM652.20,302.5h0.6V304.8h-0.6ZM653.20,295.7h0.6V299.3h-0.6ZM655.20,300.9h0.6V304.4h-0.6ZM657.20,300.6h0.6V304.5h-0.6ZM659.20,296.4h0.6V299.6h-0.6ZM661.20,295.7h0.6V298.0h-0.6ZM665.20,301.7h0.6V304.4h-0.6ZM666.20,296.0h0.6V299.4h-0.6ZM667.20,302.0h0.6V305.0h-0.6ZM668.20,296.9h0.6V299.4h-0.6ZM670.20,296.3h0.6V299.5h-0.6ZM672.20,301.0h0.6V304.9h-0.6ZM674.20,296.3h0.6V299.9h-0.6ZM676.20,296.2h0.6V300.1h-0.6ZM678.20,300.6h0.6V304.4h-0.6ZM680.20,302.7h0.6V304.9h-0.6ZM682.20,296.2h0.6V299.7h-0.6ZM684.20,297.0h0.6V301.0h-0.6ZM686.20,301.6h0.6V304.8h-0.6ZM691.20,302.2h0.6V305.0h-0.6ZM693.20,296.2h0.6V299.6h-0.6ZM696.20,302.0h0.6V304.9h-0.6ZM697.20,296.6h0.6V300.0h-0.6ZM699.20,302.3h0.6V304.8h-0.6ZM703.20,296.9h0.6V299.2h-0.6ZM706.20,302.2h0.6V304.6h-0.6ZM707.20,296.4h0.6V299.2h-0.6ZM709.20,296.3h0.6V299.0h-0.6ZM710.20,301.3h0.6V305.1h-0.6ZM712.20,302.3h0.6V304.9h-0.6ZM713.20,296.7h0.6V299.5h-0.6ZM715.20,296.7h0.6V300.3h-0.6ZM717.20,301.1h0.6V304.9h-0.6ZM719.20,301.8h0.6V304.7h-0.6ZM722.20,296.8h0.6V300.3h-0.6ZM723.20,302.2h0.6V305.1h-0.6ZM727.20,296.4h0.6V300.3h-0.6ZM729.20,301.7h0.6V304.9h-0.6ZM731.20,301.6h0.6V304.9h-0.6ZM732.20,296.3h0.6V299.9h-0.6ZM734.20,302.8h0.6V305.0h-0.6ZM735.20,296.2h0.6V300.2h-0.6ZM736.20,301.5h0.6V304.9h-0.6ZM737.20,296.3h0.6V300.3h-0.6ZM738.20,301.1h0.6V305.2h-0.6ZM740.20,296.2h0.6V300.0h-0.6Z" fill="#c4e4c4" fill-opacity="0.8"/>
<line x1="129.9" y1="301.4" x2="129.9" y2="18" stroke="#4aa84a" stroke-width="1.6"/>
<line x1="362.61" y1="301.3" x2="739.8" y2="301.3" stroke="#111" stroke-opacity="0.6" stroke-width="1.3" stroke-dasharray="3.4 3.894"/>
<path d="M250.0,273.4h1.4v1.2h-1.4ZM270.7,280.2h1.4v1.2h-1.4ZM290.3,282.5h1.4v1.2h-1.4ZM311.4,284.7h1.4v1.2h-1.4ZM331.5,287.9h1.4v1.2h-1.4ZM355.0,288.6h1.4v1.2h-1.4ZM372.7,289.7h1.4v1.2h-1.4ZM396.4,292.0h1.4v1.2h-1.4ZM400.7,292.8h1.4v1.2h-1.4ZM411.4,292.6h1.4v1.2h-1.4ZM419.7,291.9h1.4v1.2h-1.4ZM423.8,292.8h1.4v1.2h-1.4ZM428.2,292.3h1.4v1.2h-1.4ZM433.9,292.2h1.4v1.2h-1.4ZM441.2,293.4h1.4v1.2h-1.4ZM451.1,293.9h1.4v1.2h-1.4ZM459.6,294.1h1.4v1.2h-1.4ZM468.2,294.3h1.4v1.2h-1.4ZM474.2,295.5h1.4v1.2h-1.4ZM485.1,295.5h1.4v1.2h-1.4ZM494.1,294.7h1.4v1.2h-1.4ZM499.7,294.8h1.4v1.2h-1.4ZM504.2,295.8h1.4v1.2h-1.4ZM511.0,296.2h1.4v1.2h-1.4ZM517.7,296.5h1.4v1.2h-1.4ZM527.6,295.1h1.4v1.2h-1.4ZM533.1,296.9h1.4v1.2h-1.4ZM540.4,297.2h1.4v1.2h-1.4ZM547.2,295.7h1.4v1.2h-1.4ZM555.6,297.2h1.4v1.2h-1.4ZM561.4,296.2h1.4v1.2h-1.4ZM567.8,297.8h1.4v1.2h-1.4ZM577.1,296.5h1.4v1.2h-1.4ZM582.8,296.6h1.4v1.2h-1.4ZM587.2,297.8h1.4v1.2h-1.4ZM592.5,297.5h1.4v1.2h-1.4ZM599.6,297.0h1.4v1.2h-1.4ZM608.7,297.1h1.4v1.2h-1.4ZM617.2,297.2h1.4v1.2h-1.4ZM624.2,297.5h1.4v1.2h-1.4ZM630.1,298.7h1.4v1.2h-1.4ZM639.7,297.9h1.4v1.2h-1.4ZM140.0,143.6h1.3v1.3h-1.3ZM147.3,189.8h1.3v1.3h-1.3ZM155.6,217.9h1.3v1.3h-1.3ZM166.8,236.2h1.3v1.3h-1.3ZM176.6,251.5h1.3v1.3h-1.3ZM183.2,257.1h1.3v1.3h-1.3ZM195.1,265.3h1.3v1.3h-1.3ZM202.4,269.6h1.3v1.3h-1.3ZM210.0,274.0h1.3v1.3h-1.3ZM220.6,278.3h1.3v1.3h-1.3ZM228.6,280.7h1.3v1.3h-1.3ZM236.4,282.7h1.3v1.3h-1.3ZM242.8,284.1h1.3v1.3h-1.3ZM249.3,285.5h1.3v1.3h-1.3Z" fill="#1a1aee"/>
<rect x="400.7" y="73.4" width="283.5" height="51" fill="#fff" stroke="#262626" stroke-width="1.3"/>
<line x1="410" y1="86.8" x2="458.4" y2="86.8" stroke="#2a2aff" stroke-width="1.5"/>
<line x1="410" y1="109.9" x2="458.4" y2="109.9" stroke="#4aa84a" stroke-width="1.5"/>
<text transform="translate(463.60,93.70) scale(1,1.07)" font-size="15.15" stroke="#000" stroke-width="0.25" textLength="211.8" lengthAdjust="spacing">General conformable derivative</text>
<text transform="translate(463.60,116.70) scale(1,1.07)" font-size="15.15" stroke="#000" stroke-width="0.25" textLength="154.9" lengthAdjust="spacing">Conformable derivative</text>
<text transform="translate(69.67,31.50) scale(1,1.04)" font-size="39.3" >0.</text><path d="M117.40,31.50 L113.95,31.50 L113.95,10.10 Q112.70,11.25 110.66,12.41 Q108.63,13.57 107.02,14.15 L107.02,10.90 Q109.92,9.57 112.08,7.69 Q114.25,5.81 115.15,4.03 L117.40,4.03 Z"/>
<text transform="translate(47.81,172.80) scale(1,1.04)" font-size="39.3" >0.05</text>
<text transform="translate(102.44,314.30) scale(1,1.04)" font-size="39.3" >0</text>
<text transform="translate(118.17,396.60) scale(1,1.04)" font-size="39.3" >0</text>
<path d="M254.73,396.60 L251.27,396.60 L251.27,375.20 Q250.03,376.35 247.99,377.51 Q245.96,378.67 244.35,379.25 L244.35,376.00 Q247.24,374.67 249.41,372.79 Q251.58,370.91 252.48,369.13 L254.73,369.13 Z"/>
<text transform="translate(361.27,396.60) scale(1,1.04)" font-size="39.3" >2</text>
<text transform="translate(484.02,396.60) scale(1,1.04)" font-size="39.3" >3</text>
<text transform="translate(605.57,396.60) scale(1,1.04)" font-size="39.3" >4</text>
<text transform="translate(727.97,396.60) scale(1,1.04)" font-size="39.3" >5</text>
<text transform="translate(361.40,435.50) scale(1,1.04)" font-size="39.3" >Time (s)</text>
<text transform="translate(31.6,220.4) rotate(-90) scale(1,1.04)" font-size="39.3">V(t)</text>
<line x1="498.5" y1="290" x2="423" y2="495.6" stroke="#000" stroke-width="3.9"/>
<path d="M416,515.5 L412.8,491.9 L433.1,499.3 Z" fill="#000"/>
<line x1="230" y1="595.9" x2="562.8" y2="595.9" stroke="#6a6a6a" stroke-width="1.6" stroke-dasharray="2.2 1.63" stroke-dashoffset="-0.6"/>
<line x1="230" y1="595.9" x2="234.8" y2="595.9" stroke="#555" stroke-width="1.6"/>
<line x1="558.0" y1="595.9" x2="562.8" y2="595.9" stroke="#555" stroke-width="1.6"/>
<line x1="230" y1="648.6" x2="562.8" y2="648.6" stroke="#6a6a6a" stroke-width="1.6" stroke-dasharray="2.2 1.63" stroke-dashoffset="-0.6"/>
<line x1="230" y1="648.6" x2="234.8" y2="648.6" stroke="#555" stroke-width="1.6"/>
<line x1="558.0" y1="648.6" x2="562.8" y2="648.6" stroke="#555" stroke-width="1.6"/>
<line x1="230" y1="701.2" x2="562.8" y2="701.2" stroke="#6a6a6a" stroke-width="1.6" stroke-dasharray="2.2 1.63" stroke-dashoffset="-0.6"/>
<line x1="230" y1="701.2" x2="234.8" y2="701.2" stroke="#555" stroke-width="1.6"/>
<line x1="558.0" y1="701.2" x2="562.8" y2="701.2" stroke="#555" stroke-width="1.6"/>
<line x1="396.2" y1="754.5" x2="396.2" y2="570.05" stroke="#6a6a6a" stroke-width="1.6" stroke-dasharray="2.2 1.63"/>
<line x1="396.2" y1="570.05" x2="396.2" y2="574.8499999999999" stroke="#555" stroke-width="1.6"/>
<line x1="396.2" y1="749.7" x2="396.2" y2="754.5" stroke="#555" stroke-width="1.6"/>
<line x1="229.1" y1="570.05" x2="563.6999999999999" y2="570.05" stroke="#9c9c9c" stroke-width="1.8"/>
<line x1="229.1" y1="754.5" x2="563.6999999999999" y2="754.5" stroke="#6e6e6e" stroke-width="1.8"/>
<line x1="230" y1="570.05" x2="230" y2="754.5" stroke="#9e9e9e" stroke-width="1.9"/>
<line x1="562.8" y1="570.05" x2="562.8" y2="754.5" stroke="#808080" stroke-width="1.9"/>
<path d="M230.0,648.1 L239.5,635.9 L256.3,648.0 L273.2,662.2 L291.1,639.6 L306.9,640.0 L323.9,661.7 L340.5,649.0 L357.2,636.1 L375.8,658.6 L392.1,655.9 L411.4,636.1 L427.2,655.2 L443.5,659.3 L461.0,637.7 L478.4,647.7 L495.2,661.2 L513.3,641.2 L528.5,641.4 L545.5,661.2 L562.5,649.5" fill="none" stroke="#0000ff" stroke-width="1.6" stroke-linejoin="round"/>
<path d="M230.0,668.0 L238.8,625.8 L256.3,663.6 L273.9,715.5 L291.1,636.3 L306.9,639.3 L323.9,714.5 L340.5,668.6 L357.2,622.8 L375.8,705.4 L392.1,694.3 L411.4,622.1 L427.2,690.3 L443.5,707.5 L461.0,628.4 L478.4,664.0 L495.2,715.9 L513.3,638.4 L528.5,641.4 L545.5,715.7 L562.5,669.0" fill="none" stroke="#008000" stroke-width="1.6" stroke-linejoin="round"/>
<text x="215.38" y="602.60" font-size="20" >4</text>
<text x="215.38" y="655.60" font-size="20" >2</text>
<text x="215.38" y="708.30" font-size="20" >0</text>
<text x="208.72" y="761.10" font-size="20" >-2</text>
<text x="224.44" y="773.50" font-size="20" >3</text>
<text x="376.74" y="773.50" font-size="20" >3.05</text>
<text x="548.60" y="773.50" font-size="20" >3.</text><path d="M572.89,773.50 L571.13,773.50 L571.13,763.03 Q570.50,763.59 569.46,764.16 Q568.43,764.73 567.61,765.01 L567.61,763.42 Q569.08,762.77 570.18,761.85 Q571.29,760.93 571.75,760.06 L572.89,760.06 Z"/>
<text x="229.50" y="565.40" font-size="20" >x </text><path d="M252.67,565.40 L250.91,565.40 L250.91,554.93 Q250.28,555.49 249.24,556.06 Q248.20,556.63 247.38,556.91 L247.38,555.32 Q248.86,554.67 249.96,553.75 Q251.07,552.83 251.53,551.96 L252.67,551.96 Z"/><text x="256.18" y="565.40" font-size="20" >0</text>
<text x="267.00" y="554.00" font-size="13" >-3</text>
</svg>
</body></html>
